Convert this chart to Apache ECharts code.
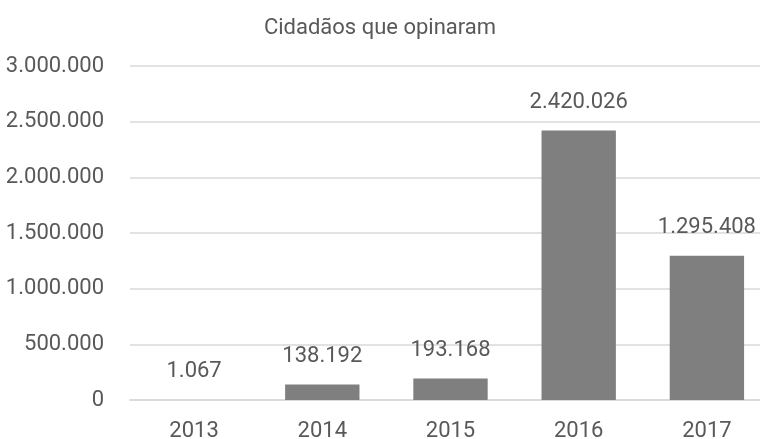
<!DOCTYPE html>
<html>
<head>
<meta charset="utf-8">
<script src="https://cdn.jsdelivr.net/npm/echarts@6/dist/echarts.min.js"></script>
<style>
  html, body { margin: 0; padding: 0; background: #fff; }
  #chart { width: 760px; height: 439px; }
</style>
</head>
<body>
<div id="chart"></div>
<script>
const titleText = 'Cidadãos que opinaram'
const years = ['2013', '2014', '2015', '2016', '2017']
const citizens = [1067, 138192, 193168, 2420026, 1295408]

const fontFamily = '"Liberation Sans Narrow", "Roboto", sans-serif'
const textColor = '#595959'
const fontSize = 22

// 1234567 -> 1.234.567
function fmt(v) {
  return String(Math.round(v)).replace(/\B(?=(\d{3})+(?!\d))/g, '.')
}

const chart = echarts.init(document.getElementById('chart'))
chart.setOption({
  animation: false,
  textStyle: { fontFamily: fontFamily },
  title: {
    text: titleText,
    left: 'center',
    top: 12,
    textStyle: { color: textColor, fontSize: fontSize, fontWeight: 'normal', fontFamily: fontFamily }
  },
  // plot area runs a little past the right edge, like the original
  grid: { left: 130, width: 641, top: 66, height: 334, outerBoundsMode: 'none' },
  xAxis: {
    type: 'category',
    data: years,
    axisTick: { show: false },
    axisLine: { lineStyle: { color: '#d9d9d9', width: 1.5 } },
    axisLabel: { color: textColor, fontSize: fontSize, margin: 20, fontFamily: fontFamily }
  },
  yAxis: {
    type: 'value',
    min: 0,
    max: 3000000,
    interval: 500000,
    axisLabel: { color: textColor, fontSize: fontSize, margin: 26, fontFamily: fontFamily, formatter: fmt },
    splitLine: { lineStyle: { color: '#d9d9d9', width: 1.5 } }
  },
  series: [
    {
      type: 'bar',
      data: citizens,
      barWidth: '58%',
      itemStyle: { color: '#7f7f7f' },
      label: {
        show: true,
        position: 'top',
        distance: 17,
        color: textColor,
        fontSize: fontSize,
        fontFamily: fontFamily,
        formatter: p => fmt(p.value)
      }
    }
  ]
})
</script>
</body>
</html>
